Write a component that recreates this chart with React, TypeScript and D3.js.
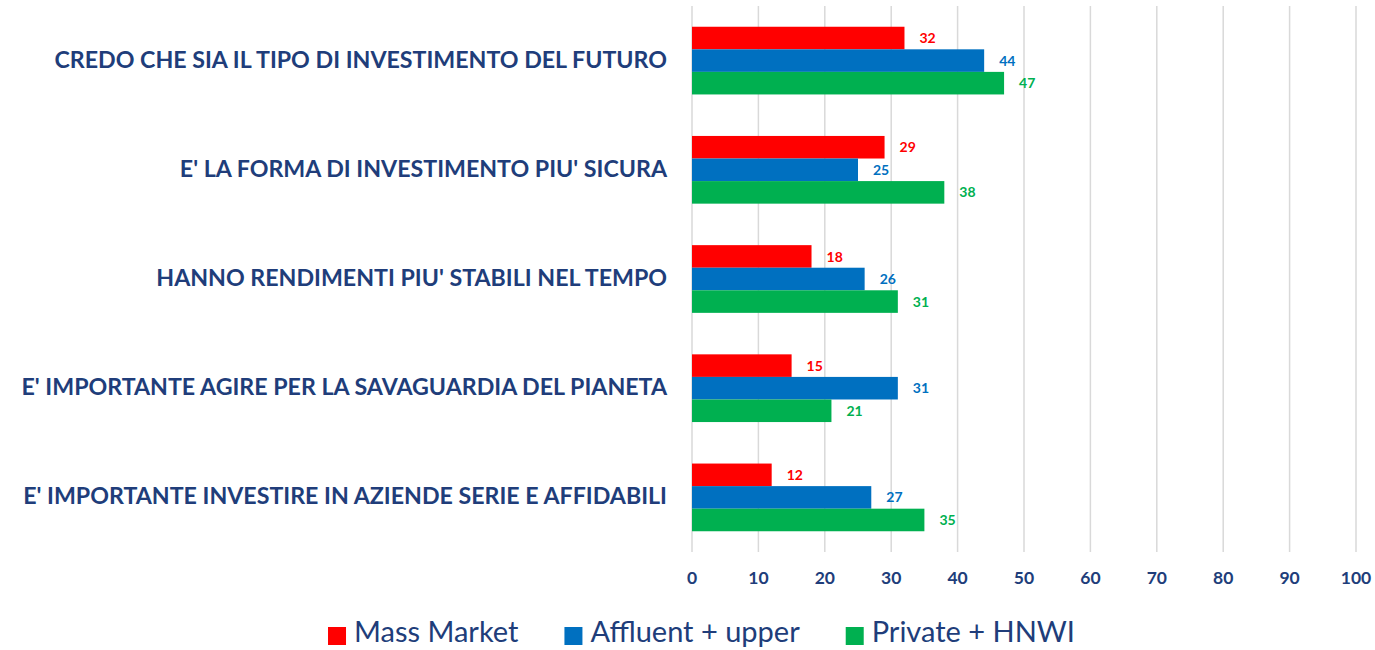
import React, { useEffect, useRef } from "react";
import * as d3 from "d3";

const categories = [
  "CREDO CHE SIA IL TIPO DI INVESTIMENTO DEL FUTURO",
  "E' LA FORMA DI INVESTIMENTO PIU' SICURA",
  "HANNO RENDIMENTI PIU' STABILI NEL TEMPO",
  "E' IMPORTANTE AGIRE PER LA SAVAGUARDIA DEL PIANETA",
  "E' IMPORTANTE INVESTIRE IN AZIENDE SERIE E AFFIDABILI",
];
const seriesNames = ["Mass Market", "Affluent + upper", "Private + HNWI"];
const massMarket = [32, 29, 18, 15, 12];
const affluentUpper = [44, 25, 26, 31, 27];
const privateHnwi = [47, 38, 31, 21, 35];
const seriesColors = ["#FF0000", "#0070C0", "#00B050"];
const xTicks = [0, 10, 20, 30, 40, 50, 60, 70, 80, 90, 100];

const W = 1375;
const H = 650;
const TEXT = "#203D7A";
const FONT = "Lato, 'Open Sans', sans-serif";

export default function App() {
  const ref = useRef<SVGSVGElement | null>(null);

  useEffect(() => {
    const svg = d3.select(ref.current);
    svg.selectAll("*").remove();

    const left = 692, right = 1356, top = 6, bottom = 552;
    const x = d3.scaleLinear().domain([0, 100]).range([left, right]);
    const y0 = d3.scaleBand<string>().domain(categories).range([top, bottom]).paddingInner(0.38).paddingOuter(0.19);
    const y1 = d3.scaleBand<string>().domain(seriesNames).range([0, y0.bandwidth()]);

    const values = [massMarket, affluentUpper, privateHnwi];

    // gridlines
    svg.append("g")
      .selectAll("line")
      .data(xTicks)
      .join("line")
      .attr("x1", (d) => x(d))
      .attr("x2", (d) => x(d))
      .attr("y1", top)
      .attr("y2", bottom)
      .attr("stroke", "#D9D9D9")
      .attr("stroke-width", 1.5);

    // bars
    const g = svg.append("g");
    categories.forEach((c, ci) => {
      seriesNames.forEach((s, si) => {
        const v = values[si][ci];
        const yy = (y0(c) as number) + (y1(s) as number);
        g.append("rect")
          .attr("x", x(0))
          .attr("y", yy)
          .attr("width", x(v) - x(0))
          .attr("height", y1.bandwidth())
          .attr("fill", seriesColors[si]);
        g.append("text")
          .attr("x", x(v) + 15)
          .attr("y", yy + y1.bandwidth() / 2 + 1.5)
          .attr("dominant-baseline", "middle")
          .attr("font-family", FONT)
          .attr("font-weight", "bold")
          .attr("font-size", 14)
          .attr("fill", seriesColors[si])
          .text(String(v));
      });
    });

    // category labels
    svg.append("g")
      .selectAll("text")
      .data(categories)
      .join("text")
      .attr("x", 667)
      .attr("y", (d) => (y0(d) as number) + y0.bandwidth() / 2 + 1)
      .attr("text-anchor", "end")
      .attr("dominant-baseline", "middle")
      .attr("font-family", FONT)
      .attr("font-weight", "bold")
      .attr("font-size", 23.2)
      .attr("fill", TEXT)
      .text((d) => d);

    // x tick labels
    svg.append("g")
      .selectAll("text")
      .data(xTicks)
      .join("text")
      .attr("x", (d) => x(d))
      .attr("y", 580)
      .attr("text-anchor", "middle")
      .attr("dominant-baseline", "middle")
      .attr("font-family", FONT)
      .attr("font-weight", "bold")
      .attr("font-size", 17.5)
      .attr("fill", TEXT)
      .text((d) => String(d));

    // legend
    const lg = svg.append("g");
    const sq = 18, gapSq = 8, gapItem = 46;
    const items = seriesNames.map((name, i) => {
      const t = lg.append("text")
        .attr("y", 635)
        .attr("dominant-baseline", "middle")
        .attr("font-family", FONT)
        .attr("font-size", 29)
        .attr("fill", TEXT)
        .text(name);
      const w = (t.node() as SVGTextElement).getComputedTextLength();
      const r = lg.append("rect").attr("width", sq).attr("height", sq).attr("y", 627).attr("fill", seriesColors[i]);
      return { t, r, w };
    });
    const total = items.reduce((a, it) => a + sq + gapSq + it.w, 0) + gapItem * (items.length - 1);
    let cx = 701.5 - total / 2;
    items.forEach((it) => {
      it.r.attr("x", cx);
      it.t.attr("x", cx + sq + gapSq);
      cx += sq + gapSq + it.w + gapItem;
    });
  }, []);

  return (
    <svg ref={ref} width={W} height={H} style={{ display: "block", position: "absolute", left: 0, top: 0, background: "#fff" }} />
  );
}
